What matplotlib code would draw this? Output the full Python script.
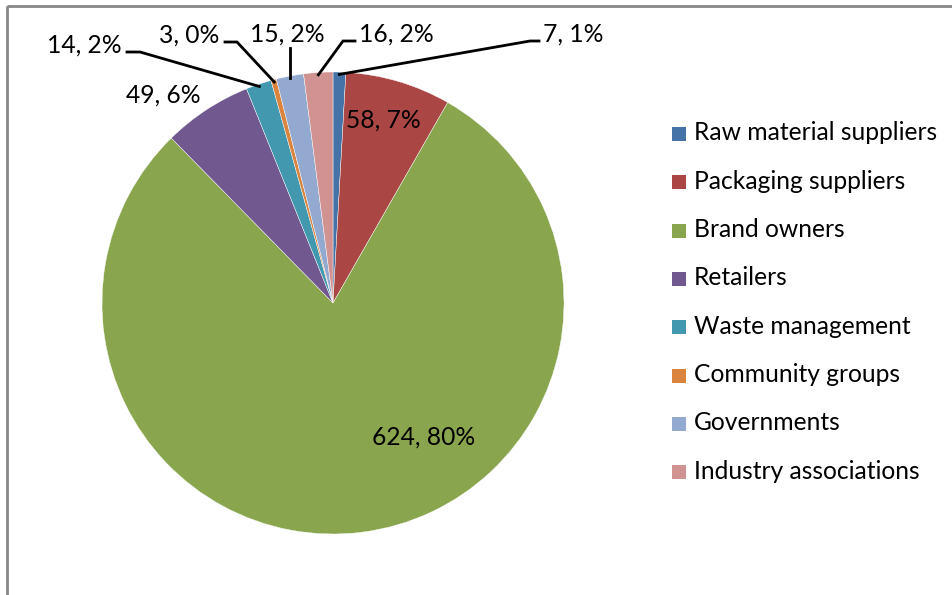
import numpy as np
import matplotlib
matplotlib.use('Agg')
import matplotlib.pyplot as plt
from matplotlib.patches import Rectangle, Wedge

# Stakeholder counts and percentages as shown on the chart
categories = ['Raw material suppliers', 'Packaging suppliers', 'Brand owners', 'Retailers',
              'Waste management', 'Community groups', 'Governments', 'Industry associations']
counts = [7, 58, 624, 49, 14, 3, 15, 16]
percents = [1, 7, 80, 6, 2, 0, 2, 2]
colors = ['#4572A7', '#AA4643', '#89A54E', '#71588F', '#4198AF', '#DB843D', '#93A9CF', '#D19392']

plt.rcParams['font.family'] = ['Lato', 'DejaVu Sans']

W, H = 952, 595
fig = plt.figure(figsize=(W / 100, H / 100), dpi=100)
ax = fig.add_axes([0, 0, 1, 1])
ax.set_xlim(0, W)
ax.set_ylim(H, 0)
ax.axis('off')

cx, cy, r = 333, 303, 231

# pie in screen coordinates (y down), start at 12 o'clock, clockwise
total = sum(counts)
angles = np.cumsum([0] + counts) / total * 360
for i, c in enumerate(counts):
    t1 = -90 + angles[i]
    t2 = -90 + angles[i + 1]
    ax.add_patch(Wedge((cx, cy), r, t1, t2, facecolor=colors[i],
                       edgecolor='white', linewidth=0.3))

labels = [f'{c}, {p}%' for c, p in zip(counts, percents)]

def edge_point(i, frac=0.99):
    mid = np.radians(-90 + (angles[i] + angles[i + 1]) / 2)
    return cx + r * frac * np.cos(mid), cy + r * frac * np.sin(mid)

fs = 17.7
# outside labels with leaders: (index, text pos, ha, elbow, line end)
outside = [
    (0, (543, 34), 'left', (530, 41), (539, 41)),
    (7, (359, 34), 'left', (343, 41), (355, 41)),
    (6, (287, 34), 'center', None, (290, 48)),
    (5, (219, 35), 'right', (237, 42), (225, 42)),
    (4, (122, 45), 'right', (140, 52), (127, 52)),
]
for i, pos, ha, elbow, end in outside:
    ax.text(pos[0], pos[1], labels[i], ha=ha, va='center', fontsize=fs, color='black')
    sx, sy = edge_point(i)
    if elbow is None:
        ax.plot([end[0], end[0]], [sy, end[1]], color='black', lw=2)
    else:
        ax.plot([sx, elbow[0], end[0]], [sy, elbow[1], end[1]], color='black', lw=2,
                solid_joinstyle='miter')

# inside / near labels
ax.text(383, 120, labels[1], ha='center', va='center', fontsize=fs)
ax.text(424, 437, labels[2], ha='center', va='center', fontsize=fs)
ax.text(163, 95, labels[3], ha='center', va='center', fontsize=fs)

# legend
ly0, dy = 134, 48.3
for k, name in enumerate(categories):
    y = ly0 + k * dy
    ax.add_patch(Rectangle((672, y - 7), 14, 14, facecolor=colors[k], edgecolor='none'))
    ax.text(694, y - 1, name, ha='left', va='center', fontsize=fs)

# chart frame
ax.add_patch(Rectangle((7, 6), W + 20, H + 20, fill=False, edgecolor='#878787', lw=2))

fig.savefig('out.png', dpi=100)
